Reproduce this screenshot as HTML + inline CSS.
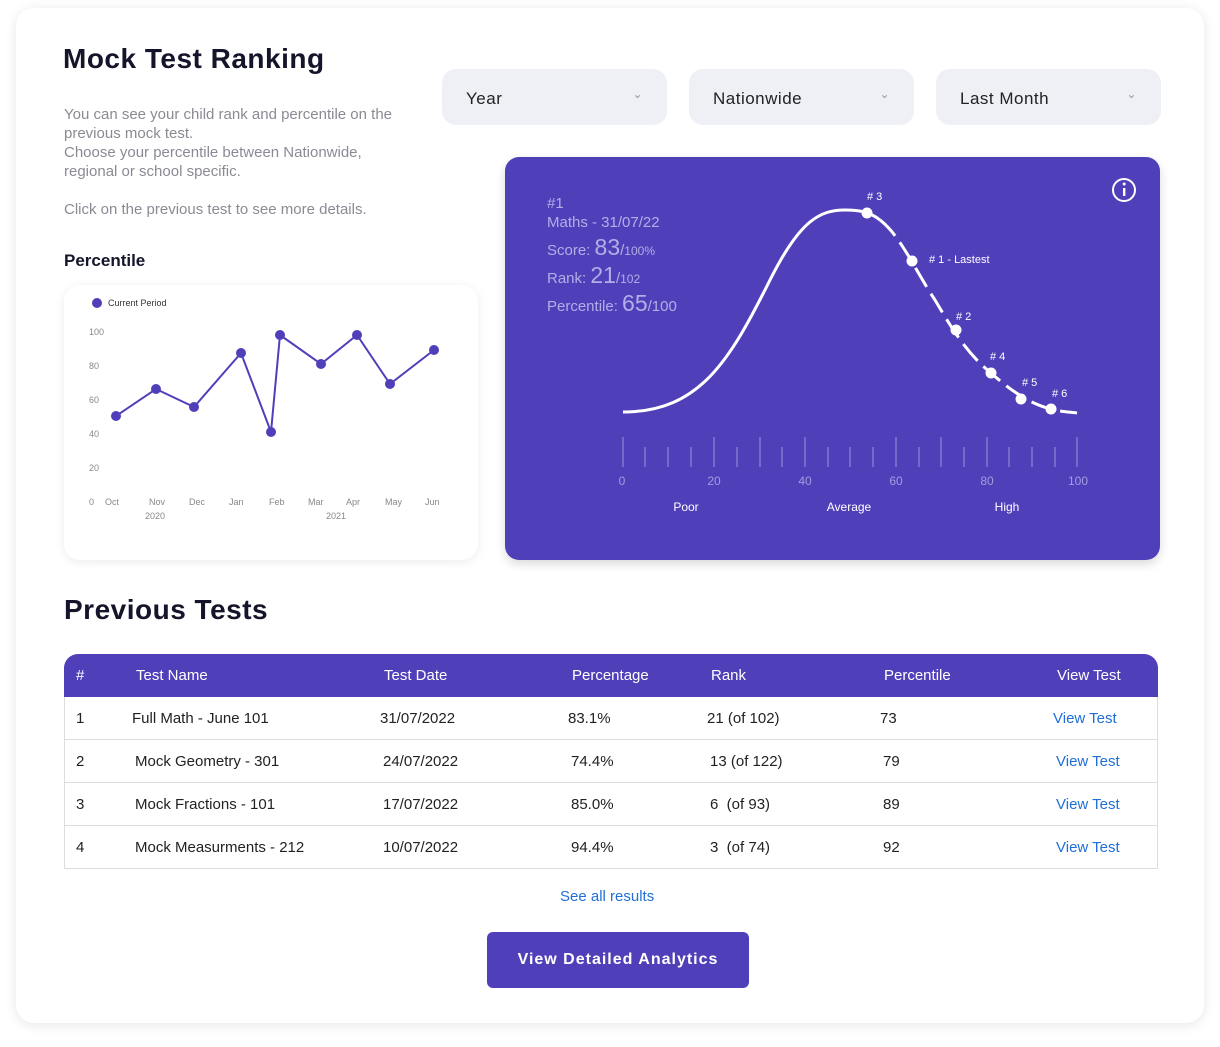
<!DOCTYPE html>
<html><head><meta charset="utf-8"><style>
*{margin:0;padding:0;box-sizing:border-box}
body{width:1220px;height:1047px;background:#fff;font-family:"Liberation Sans",sans-serif;position:relative;overflow:hidden}
.card{position:absolute;left:16px;top:8px;width:1188px;height:1015px;background:#fff;border-radius:18px;box-shadow:0 2px 12px rgba(0,0,0,0.10)}
.a{position:absolute;white-space:nowrap}
h1{position:absolute;left:63px;top:43px;font-size:28px;font-weight:bold;color:#14142b;letter-spacing:0.5px}
.desc{position:absolute;left:64px;top:105px;font-size:15px;line-height:19px;color:#8a8a94}
.dd{position:absolute;top:69px;width:225px;height:56px;background:#eff0f6;border-radius:14px;font-size:17px;color:#222;padding:20px 0 0 24px;letter-spacing:0.5px}
.dd span{position:absolute;right:24px;top:18px;color:#999;font-size:12px}
.pc{position:absolute;left:64px;top:285px;width:414px;height:275px;background:#fff;border-radius:16px;box-shadow:0 2px 10px rgba(0,0,0,0.08)}
.big{position:absolute;left:505px;top:157px;width:655px;height:403px;background:#4f40ba;border-radius:14px;box-shadow:0 4px 10px rgba(0,0,0,0.15)}
.tbl{position:absolute;left:64px;top:654px;width:1094px}
.hd{height:43px;background:#4f40ba;border-radius:14px 14px 0 0;position:relative;color:#fff;font-size:15px}
.row{height:43px;border:1px solid #ddd;border-top:none;position:relative;font-size:15px;color:#222}
.hd div,.row div{position:absolute;top:13px}
.lk{color:#1f6fd6}
.btn{position:absolute;left:487px;top:932px;width:262px;height:56px;background:#4f40ba;border-radius:6px;color:#fff;font-size:16px;font-weight:bold;text-align:center;line-height:56px;letter-spacing:1px}
</style></head><body>
<div class="card"></div>
<h1>Mock Test Ranking</h1>
<div class="desc">You can see your child rank and percentile on the<br>previous mock test.<br>Choose your percentile between Nationwide,<br>regional or school specific.<br><br>Click on the previous test to see more details.</div>
<div class="dd" style="left:442px">Year<span>⌄</span></div>
<div class="dd" style="left:689px">Nationwide<span>⌄</span></div>
<div class="dd" style="left:936px">Last Month<span>⌄</span></div>
<div class="a" style="left:64px;top:251px;font-size:17px;font-weight:bold;color:#14142b">Percentile</div>
<div class="pc"></div>
<svg style="position:absolute;left:0;top:0" width="1220" height="1047">
<circle cx="97" cy="303" r="5" fill="#4f40ba"/>
<text x="108" y="306" font-size="9" fill="#333" font-family="Liberation Sans">Current Period</text>
<g font-size="9" fill="#888" font-family="Liberation Sans">
<text x="89" y="335">100</text><text x="89" y="369">80</text><text x="89" y="403">60</text><text x="89" y="437">40</text><text x="89" y="471">20</text><text x="89" y="505">0</text>
<text x="105" y="505">Oct</text><text x="149" y="505">Nov</text><text x="189" y="505">Dec</text><text x="229" y="505">Jan</text><text x="269" y="505">Feb</text><text x="308" y="505">Mar</text><text x="346" y="505">Apr</text><text x="385" y="505">May</text><text x="425" y="505">Jun</text>
<text x="145" y="519">2020</text><text x="326" y="519">2021</text>
</g>
<polyline points="116,416 156,389 194,407 241,353 271,432 280,335 321,364 357,335 390,384 434,350" fill="none" stroke="#4f40ba" stroke-width="2"/>
<g fill="#4f40ba"><circle cx="116" cy="416" r="5"/><circle cx="156" cy="389" r="5"/><circle cx="194" cy="407" r="5"/><circle cx="241" cy="353" r="5"/><circle cx="271" cy="432" r="5"/><circle cx="280" cy="335" r="5"/><circle cx="321" cy="364" r="5"/><circle cx="357" cy="335" r="5"/><circle cx="390" cy="384" r="5"/><circle cx="434" cy="350" r="5"/></g>
</svg>
<div class="big"></div>
<svg style="position:absolute;left:0;top:0" width="1220" height="1047">
<g fill="#b3aee6" font-family="Liberation Sans">
<text x="547" y="208" font-size="15">#1</text>
<text x="547" y="227" font-size="15">Maths - 31/07/22</text>
<text x="547" y="255" font-size="15">Score: <tspan font-size="23">83</tspan>/<tspan font-size="12">100%</tspan></text>
<text x="547" y="283" font-size="15">Rank: <tspan font-size="23">21</tspan>/<tspan font-size="12">102</tspan></text>
<text x="547" y="311" font-size="15">Percentile: <tspan font-size="23">65</tspan>/100</text>
</g>
<circle cx="1124" cy="190" r="11" fill="none" stroke="#fff" stroke-width="2"/>
<rect x="1123" y="188" width="2.4" height="8" fill="#fff"/><circle cx="1124.2" cy="184" r="1.5" fill="#fff"/>
<path d="M623,412 C700,412 730,360 770,280 C800,220 820,210 845,210 C860,210 870,212 880,220" fill="none" stroke="#fff" stroke-width="3"/>
<path d="M880,220 C900,235 915,270 935,300 C950,325 965,352 991,373 C1010,390 1030,404 1051,409 C1062,412 1070,412 1077,413" fill="none" stroke="#fff" stroke-width="3" stroke-dasharray="22,8"/>
<g fill="#fff"><circle cx="867" cy="213" r="5.5"/><circle cx="912" cy="261" r="5.5"/><circle cx="956" cy="330" r="5.5"/><circle cx="991" cy="373" r="5.5"/><circle cx="1021" cy="399" r="5.5"/><circle cx="1051" cy="409" r="5.5"/></g>
<g fill="#fff" font-size="11" font-family="Liberation Sans">
<text x="867" y="200">#  3</text><text x="929" y="263">#  1 - Lastest</text><text x="956" y="320">#  2</text><text x="990" y="360">#  4</text><text x="1022" y="386">#  5</text><text x="1052" y="397">#  6</text>
</g>
<g stroke="#8f86d8" stroke-width="1.2">
<line x1="623" y1="437" x2="623" y2="467"/><line x1="645" y1="447" x2="645" y2="467"/><line x1="668" y1="447" x2="668" y2="467"/><line x1="691" y1="447" x2="691" y2="467"/>
<line x1="714" y1="437" x2="714" y2="467"/><line x1="737" y1="447" x2="737" y2="467"/><line x1="760" y1="437" x2="760" y2="467"/><line x1="782" y1="447" x2="782" y2="467"/>
<line x1="805" y1="437" x2="805" y2="467"/><line x1="828" y1="447" x2="828" y2="467"/><line x1="850" y1="447" x2="850" y2="467"/><line x1="873" y1="447" x2="873" y2="467"/>
<line x1="896" y1="437" x2="896" y2="467"/><line x1="919" y1="447" x2="919" y2="467"/><line x1="941" y1="437" x2="941" y2="467"/><line x1="964" y1="447" x2="964" y2="467"/>
<line x1="987" y1="437" x2="987" y2="467"/><line x1="1009" y1="447" x2="1009" y2="467"/><line x1="1032" y1="447" x2="1032" y2="467"/><line x1="1055" y1="447" x2="1055" y2="467"/>
<line x1="1077" y1="437" x2="1077" y2="467"/>
</g>
<g fill="#a29ce0" font-size="12" font-family="Liberation Sans" text-anchor="middle">
<text x="622" y="485">0</text><text x="714" y="485">20</text><text x="805" y="485">40</text><text x="896" y="485">60</text><text x="987" y="485">80</text><text x="1078" y="485">100</text>
</g>
<g fill="#fff" font-size="12" font-family="Liberation Sans" text-anchor="middle">
<text x="686" y="511">Poor</text><text x="849" y="511">Average</text><text x="1007" y="511">High</text>
</g>
</svg>
<div class="a" style="left:64px;top:594px;font-size:28px;font-weight:bold;color:#14142b;letter-spacing:0.5px">Previous Tests</div>
<div class="tbl">
<div class="hd"><div style="left:12px">#</div><div style="left:72px">Test Name</div><div style="left:320px">Test Date</div><div style="left:508px">Percentage</div><div style="left:647px">Rank</div><div style="left:820px">Percentile</div><div style="left:993px">View Test</div></div>
<div class="row"><div style="left:11px">1</div><div style="left:67px">Full Math - June 101</div><div style="left:315px">31/07/2022</div><div style="left:503px">83.1%</div><div style="left:642px">21 (of 102)</div><div style="left:815px">73</div><div class="lk" style="left:988px">View Test</div></div>
<div class="row"><div style="left:11px">2</div><div style="left:70px">Mock Geometry - 301</div><div style="left:318px">24/07/2022</div><div style="left:506px">74.4%</div><div style="left:645px">13 (of 122)</div><div style="left:818px">79</div><div class="lk" style="left:991px">View Test</div></div>
<div class="row"><div style="left:11px">3</div><div style="left:70px">Mock Fractions - 101</div><div style="left:318px">17/07/2022</div><div style="left:506px">85.0%</div><div style="left:645px">6 &nbsp;(of 93)</div><div style="left:818px">89</div><div class="lk" style="left:991px">View Test</div></div>
<div class="row"><div style="left:11px">4</div><div style="left:70px">Mock Measurments - 212</div><div style="left:318px">10/07/2022</div><div style="left:506px">94.4%</div><div style="left:645px">3 &nbsp;(of 74)</div><div style="left:818px">92</div><div class="lk" style="left:991px">View Test</div></div>
</div>
<div class="a lk" style="left:560px;top:888px;font-size:15px;color:#1f6fd6">See all results</div>
<div class="btn">View Detailed Analytics</div>
</body></html>
